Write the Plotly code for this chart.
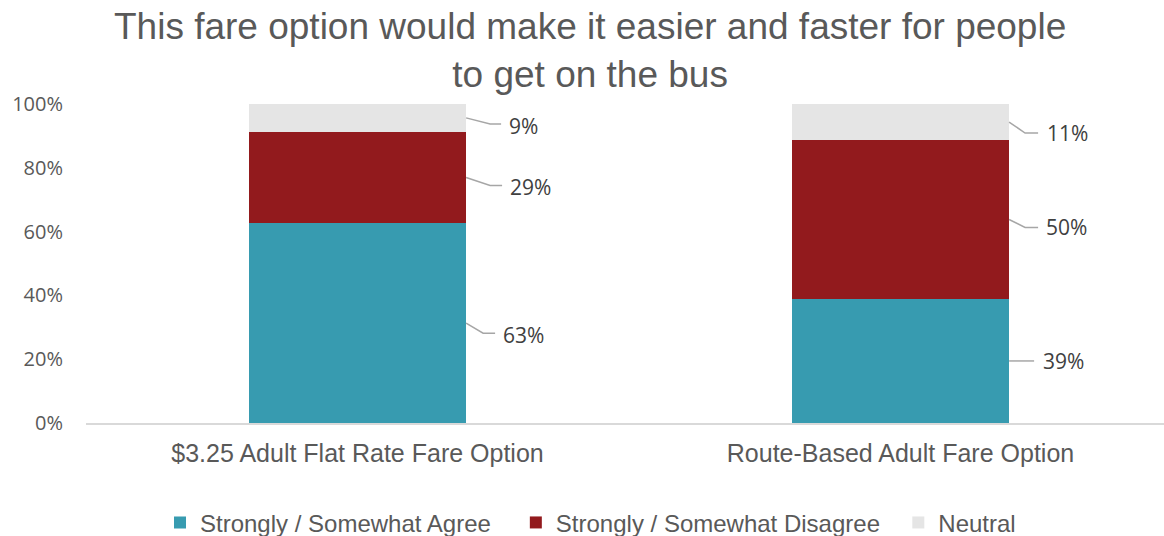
import plotly.graph_objects as go

categories = ["$3.25 Adult Flat Rate Fare Option", "Route-Based Adult Fare Option"]
series_names = ["Strongly / Somewhat Agree", "Strongly / Somewhat Disagree", "Neutral"]
agree = [62.6, 38.9]
disagree = [28.7, 49.8]
neutral = [8.7, 11.3]
y_ticks = [0, 20, 40, 60, 80, 100]
y_tick_labels = ["0%", "20%", "40%", "60%", "80%", "100%"]
title_text = "This fare option would make it easier and faster for people<br>to get on the bus"

colors = ["#379BB0", "#921A1D", "#E5E5E5"]
series_vals = [agree, disagree, neutral]
legend_pad = [3, 2, 0]  # trailing non-breaking spaces to space legend entries
xpos = list(range(len(categories)))
BAR_W = 0.4

fig = go.Figure()
for name, vals, col, pad in zip(series_names, series_vals, colors, legend_pad):
    fig.add_trace(go.Bar(x=xpos, y=vals, name=name + "\u00a0" * pad,
                         marker=dict(color=col, line=dict(width=0)),
                         width=BAR_W, hoverinfo="skip"))

# leader line geometry (pixels, relative to bar right edge / segment middle; y up)
# per category, per series: (elbow_dx, elbow_dy, end_dx, text_dx, text_dy)
leader = {
    0: [(17, -10, 29, 35, -12), (24, -8, 36, 42, -9), (24, -6, 35, 41, -8)],
    1: [(25, 0, 25, 32, 0), (16, -8, 29, 35, -8), (16, -11, 29, 36, -11)],
}
annotations = []
shapes = []
for ci, x in enumerate(xpos):
    base = 0
    for si, vals in enumerate(series_vals):
        v = vals[ci]
        mid = base + v / 2
        base += v
        ex, ey, endx, tx, ty = leader[ci][si]
        shapes.append(dict(type="path", xref="x", yref="y", xsizemode="pixel", ysizemode="pixel",
                           xanchor=x + BAR_W / 2, yanchor=mid,
                           path=f"M0,0 L{ex},{ey} L{endx},{ey}",
                           line=dict(color="#A6A6A6", width=1.5)))
        annotations.append(dict(x=x + BAR_W / 2, y=mid, xref="x", yref="y", text=f"{round(v)}%",
                                showarrow=False, xanchor="left", yanchor="middle",
                                xshift=tx, yshift=ty,
                                font=dict(family="Open Sans", size=21, color="#404040")))

annotations.append(dict(x=(590 - 86) / 1078, y=(423 - 50) / 319, xref="paper", yref="paper",
                        text=title_text, showarrow=False, xanchor="center", yanchor="middle",
                        font=dict(family="Liberation Sans", size=37, color="#595959")))

fig.update_layout(
    barmode="stack",
    width=1164, height=536,
    margin=dict(l=86, r=0, t=104, b=113, autoexpand=False),
    paper_bgcolor="white", plot_bgcolor="white",
    xaxis=dict(range=[-0.5, -0.5 + 1078 / 543], tickvals=xpos, ticktext=categories,
               showgrid=False, zeroline=False, showline=True, linecolor="#D9D9D9", linewidth=1.5,
               ticks="", ticklabelstandoff=7, automargin=False,
               tickfont=dict(family="Liberation Sans", size=25, color="#595959")),
    yaxis=dict(range=[0, 100], tickvals=y_ticks, ticktext=y_tick_labels, showgrid=False,
               zeroline=False, showline=False, ticks="", ticklabelstandoff=22, automargin=False,
               tickfont=dict(family="Open Sans", size=20, color="#595959")),
    legend=dict(orientation="h", x=0.468, xanchor="center", y=-0.313, yanchor="middle",
                font=dict(family="Liberation Sans", size=24, color="#595959"),
                traceorder="normal", itemclick=False),
    annotations=annotations,
    shapes=shapes,
    showlegend=True,
)

fig.write_html("out.html", config={"displayModeBar": False},
               post_script="document.body.style.margin='0';")
